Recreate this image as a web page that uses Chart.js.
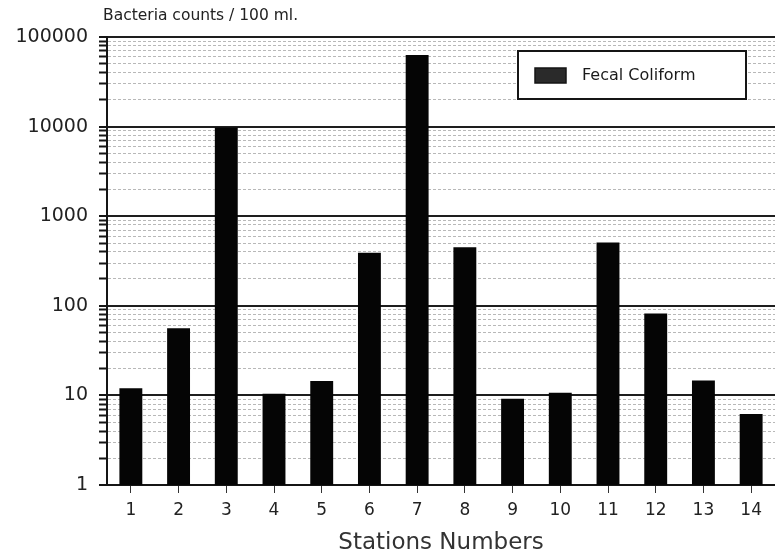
<!DOCTYPE html>
<html>
<head>
<meta charset="utf-8">
<script src="https://cdn.jsdelivr.net/npm/chart.js@4.4.0/dist/chart.umd.min.js"></script>
<style>
  html, body { margin: 0; padding: 0; background: #fff; }
  #wrap { width: 775px; height: 558px; position: relative; }
</style>
</head>
<body>
<div id="wrap"><canvas id="chart"></canvas></div>
<script>
const stations = ['1', '2', '3', '4', '5', '6', '7', '8', '9', '10', '11', '12', '13', '14'];
const fecalColiform = [12, 56, 9800, 10.4, 14.5, 390, 63000, 450, 9.2, 10.7, 510, 82, 14.7, 6.2];
const yTickLabels = ['1', '10', '100', '1000', '10000', '100000'];
const seriesLabel = 'Fecal Coliform';
const unitTitle = 'Bacteria counts / 100 ml.';
const xTitle = 'Stations Numbers';

const FONT = "'DejaVu Sans', sans-serif";
const INK = '#151515';

const isDecade = v => Math.abs(Math.log10(v) - Math.round(Math.log10(v))) < 1e-9;

// top-left unit label and boxed legend drawn by hand
const decorPlugin = {
  id: 'decor',
  afterDraw: chart => {
    const ctx = chart.ctx;
    const area = chart.chartArea;
    ctx.save();
    ctx.fillStyle = '#222';
    ctx.font = `15.5px ${FONT}`;
    ctx.textBaseline = 'middle';
    ctx.textAlign = 'left';
    ctx.fillText(unitTitle, area.left - 4, 16);

    const bx = area.right - 257;
    const by = area.top + 14;
    ctx.fillStyle = '#fff';
    ctx.fillRect(bx, by, 228, 48);
    ctx.strokeStyle = INK;
    ctx.lineWidth = 2;
    ctx.strokeRect(bx, by, 228, 48);
    ctx.fillStyle = '#2a2a2a';
    ctx.fillRect(bx + 17, by + 17, 31, 15);
    ctx.lineWidth = 1.5;
    ctx.strokeRect(bx + 17, by + 17, 31, 15);
    ctx.fillStyle = '#1a1a1a';
    ctx.font = `16px ${FONT}`;
    ctx.fillText(seriesLabel, bx + 64, by + 25);
    ctx.restore();
  },
};

new Chart(document.getElementById('chart'), {
  type: 'bar',
  data: {
    labels: stations,
    datasets: [{
      label: seriesLabel,
      data: fecalColiform,
      backgroundColor: '#050505',
      borderWidth: 0,
      barPercentage: 0.48,
      categoryPercentage: 1,
    }],
  },
  plugins: [decorPlugin],
  options: {
    responsive: true,
    maintainAspectRatio: false,
    animation: false,
    layout: {
      padding: { top: 37, right: 0, left: 0, bottom: 0 },
    },
    plugins: {
      legend: { display: false },
      tooltip: { enabled: false },
    },
    scales: {
      x: {
        type: 'category',
        offset: true,
        afterFit: scale => { scale.height = 73; },
        grid: {
          display: true,
          drawOnChartArea: false,
          offset: false,
          tickLength: 8,
          tickColor: '#333',
          tickWidth: 1,
        },
        border: { display: true, color: INK, width: 2 },
        ticks: {
          color: '#222',
          padding: 7,
          font: { family: FONT, size: 17 },
        },
        title: {
          display: true,
          text: xTitle,
          color: '#333',
          padding: { top: 0, bottom: 1 },
          font: { family: FONT, size: 23 },
        },
      },
      y: {
        type: 'logarithmic',
        min: 1,
        max: 100000,
        afterFit: scale => { scale.width = 107; },
        afterBuildTicks: scale => {
          const ticks = [];
          yTickLabels.forEach(label => {
            const decade = Number(label);
            for (let k = 1; k <= 9; k++) {
              const v = decade * k;
              if (v <= scale.max) ticks.push({ value: v, major: k === 1 });
            }
          });
          scale.ticks = ticks;
        },
        grid: {
          color: ctx => (isDecade(ctx.tick.value) ? '#1e1e1e' : 'rgba(0, 0, 0, 0.28)'),
          lineWidth: ctx => (isDecade(ctx.tick.value) ? 2 : 1),
          tickColor: INK,
          tickWidth: ctx => (isDecade(ctx.tick.value) ? 2 : 2),
          tickLength: 8,
          tickBorderDash: [],
        },
        border: {
          display: true,
          color: INK,
          width: 2,
          dash: ctx => (ctx.tick && !isDecade(ctx.tick.value) ? [3, 2] : []),
        },
        ticks: {
          autoSkip: false,
          color: '#222',
          padding: 11,
          font: { family: FONT, size: 19 },
          callback: value => {
            const label = yTickLabels.find(item => Number(item) === value);
            return label === undefined ? '' : label;
          },
        },
      },
    },
  },
});
</script>
</body>
</html>
